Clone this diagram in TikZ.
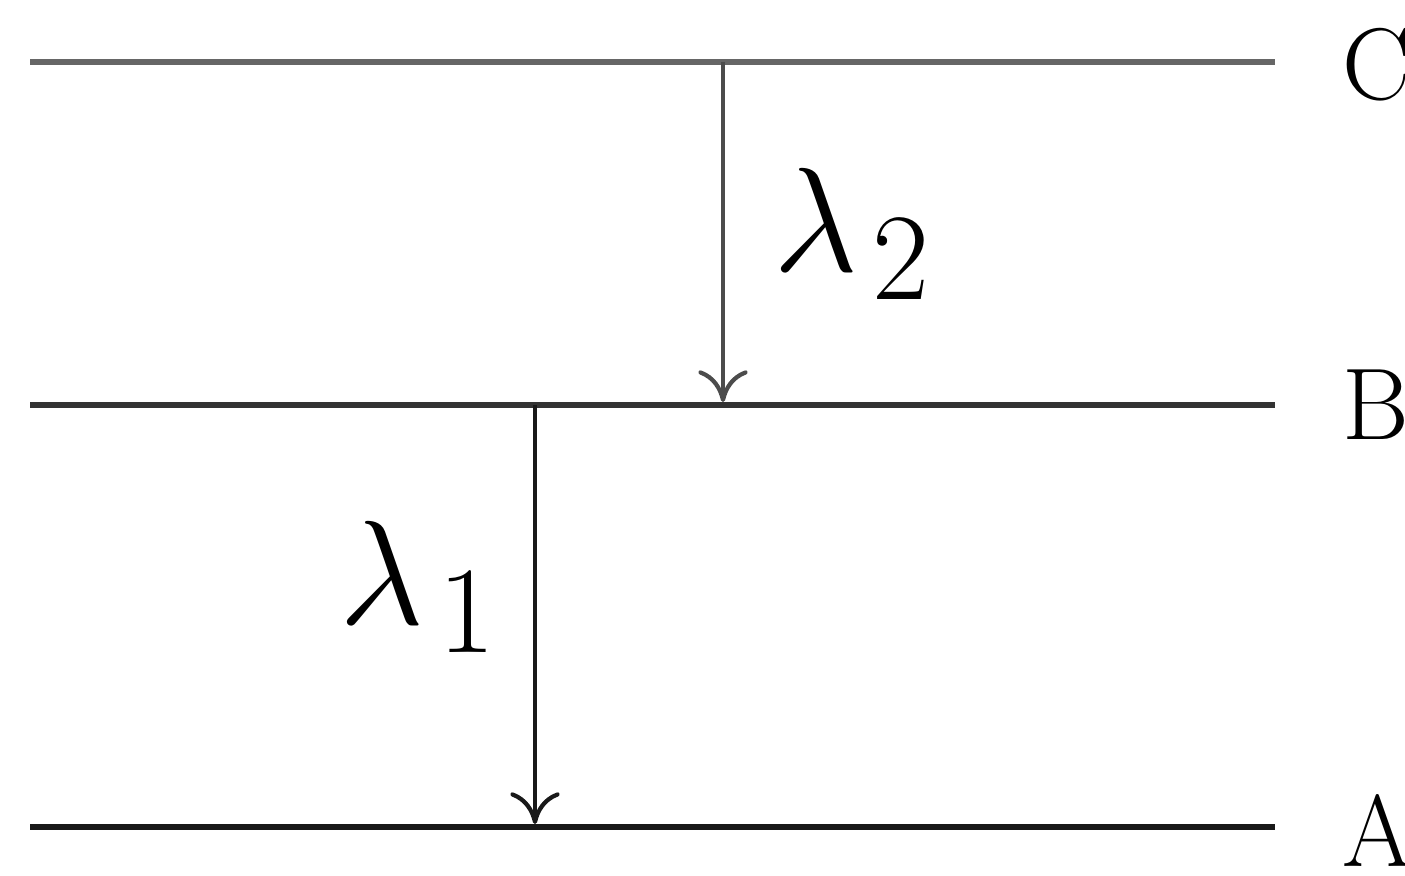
\documentclass[tikz,border=0pt]{standalone}
\usepackage{graphicx}
\usetikzlibrary{arrows.meta}
\newcommand{\biglam}[1]{\scalebox{1.7}{$\lambda_{\mkern2mu #1}$}}
\begin{document}
\begin{tikzpicture}[
  level/.style={line width=1.7pt},
  trans/.style={line width=1.2pt,-{To[length=9pt,width=14pt]}},
  lab/.style={font=\fontsize{29}{32}\selectfont, anchor=west, inner sep=0pt},
  lam/.style={font=\fontsize{24.88}{28}\selectfont, inner sep=0pt}
]
\useasboundingbox (0,0) rectangle (14.05,8.76);
\fill[white] (0,0) rectangle (14.05,8.76);
\coordinate (Cl) at (0.3,8.14); \coordinate (Cr) at (12.75,8.14);
\coordinate (Bl) at (0.3,4.71); \coordinate (Br) at (12.75,4.71);
\coordinate (Al) at (0.3,0.49); \coordinate (Ar) at (12.75,0.49);
\draw[level, black!60] (Cl) -- (Cr);
\draw[level, black!80] (Bl) -- (Br);
\draw[level, black!90] (Al) -- (Ar);
\node[lab] (C) at (13.42,8.11) {C};
\node[lab] (B) at (13.42,4.71) {B};
\node[lab] (A) at (13.42,0.46) {A};
\coordinate (t2s) at (7.23,8.14); \coordinate (t2e) at (7.23,4.74);
\coordinate (t1s) at (5.35,4.71); \coordinate (t1e) at (5.35,0.52);
\draw[trans, black!70] (t2s) -- (t2e);
\draw[trans, black!90] (t1s) -- (t1e);
\node[lam] (l2) at (8.53,6.42) {\biglam{2}};
\node[lam] (l1) at (4.19,2.89) {\biglam{1}};
\end{tikzpicture}
\end{document}
